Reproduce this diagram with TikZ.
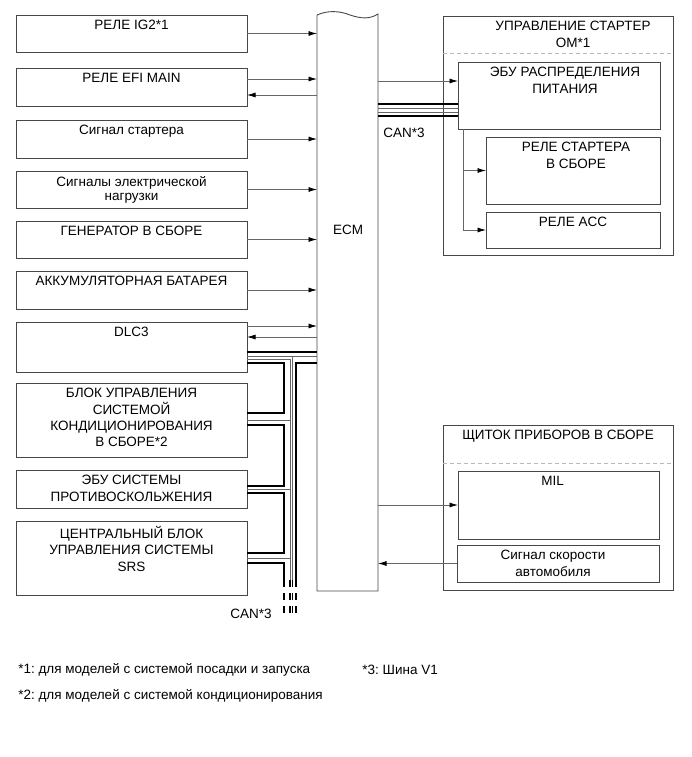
\documentclass[tikz,border=0pt]{standalone}
\usepackage{fontspec}
\setmainfont{Liberation Sans}
\frenchspacing
\usetikzlibrary{arrows.meta,positioning}
\definecolor{boxgray}{HTML}{474747}
\definecolor{wiregray}{HTML}{666666}
\tikzset{every picture/.style={line width=0.75pt}}
\tikzset{
  unit/.style={draw=boxgray, line width=0.9pt, anchor=north west, inner sep=0pt, outer sep=0pt},
  caption/.style={anchor=north, yshift=-5pt, inner sep=0pt, align=center, font=\fontsize{13.5}{16.3}\selectfont},
  sig/.style={draw=wiregray, line width=0.8pt, -{Latex[length=8.5pt,width=5pt,color=black]}},
  canhi/.style={draw=black, line width=2.6pt, line join=miter},
  canlo/.style={draw=wiregray, line width=0.7pt},
  sepline/.style={draw=gray!55, line width=0.8pt, dash pattern=on 4pt off 3pt},
  note/.style={anchor=west, inner sep=0pt, font=\fontsize{13.5}{16.3}\selectfont},
}

\begin{document}
\begin{tikzpicture}[x=1pt,y=-1pt]
    \useasboundingbox (0,0) rectangle (691,757);

    % Left column of units
    \node[unit, minimum width=231pt, minimum height=37pt, label={[caption]north:РЕЛЕ IG2*1}] (ig2) at (16,15) {};
    \node[unit, minimum width=231pt, minimum height=38pt, label={[caption]north:РЕЛЕ EFI MAIN}] (efi) at (16,68) {};
    \node[unit, minimum width=231pt, minimum height=38pt, label={[caption]north:Сигнал стартера}] (stsig) at (16,120) {};
    \node[unit, minimum width=231pt, minimum height=37pt, label={[caption,font=\fontsize{13.5}{14}\selectfont]north:{Сигналы электрической\\нагрузки}}] (load) at (16,171) {};
    \node[unit, minimum width=231pt, minimum height=37pt, label={[caption]north:ГЕНЕРАТОР В СБОРЕ}] (gen) at (16,221) {};
    \node[unit, minimum width=231pt, minimum height=38pt, label={[caption]north:АККУМУЛЯТОРНАЯ БАТАРЕЯ}] (batt) at (16,271) {};
    \node[unit, minimum width=231pt, minimum height=50pt, label={[caption]north:DLC3}] (dlc) at (16,322) {};
    \node[unit, minimum width=231pt, minimum height=74pt, label={[caption]north:{БЛОК УПРАВЛЕНИЯ\\СИСТЕМОЙ\\КОНДИЦИОНИРОВАНИЯ\\В СБОРЕ*2}}] (hvac) at (16,383) {};
    \node[unit, minimum width=231pt, minimum height=38pt, label={[caption]north:{ЭБУ СИСТЕМЫ\\ПРОТИВОСКОЛЬЖЕНИЯ}}] (pcs) at (16,470) {};
    \node[unit, minimum width=231pt, minimum height=74pt, label={[caption]north:{ЦЕНТРАЛЬНЫЙ БЛОК\\УПРАВЛЕНИЯ СИСТЕМЫ\\SRS}}] (srs) at (16,521) {};

    % ECM with torn top edge
    \node[anchor=north west, inner sep=0pt, outer sep=0pt, minimum width=61pt, minimum height=576pt] (ecm) at (317,15) {};
    \draw[boxgray, line width=0.9pt] (ecm.north west) -- (ecm.south west) -- (ecm.south east) -- ([yshift=1pt]ecm.north east)
        .. controls (370,19) and (362,19) .. (350,15) .. controls (340,11) and (328,10) .. (ecm.north west);
    \node[caption, anchor=center, yshift=0pt] (ecmtext) at (348,225) {ECM};

    % Starter control group
    \node[unit, minimum width=230pt, minimum height=239pt, label={[caption,xshift=15pt]north:{УПРАВЛЕНИЕ СТАРТЕР\\ОМ*1}}] (stctl) at (443,16) {};
    \draw[sepline] ([yshift=-37pt]stctl.north west) -- ([yshift=-37pt]stctl.north east);
    \node[unit, minimum width=202pt, minimum height=67pt, label={[caption,xshift=6pt]north:{ЭБУ РАСПРЕДЕЛЕНИЯ\\ПИТАНИЯ}}] (pdu) at (458,62) {};
    \node[unit, minimum width=174pt, minimum height=67pt, label={[caption,xshift=3pt]north:{РЕЛЕ СТАРТЕРА\\В СБОРЕ}}] (strel) at (486,137) {};
    \node[unit, minimum width=174pt, minimum height=36pt, label={[caption]north:РЕЛЕ ACC}] (accrel) at (486,212) {};

    % Meter group
    \node[unit, minimum width=230pt, minimum height=165pt, label={[caption]north:ЩИТОК ПРИБОРОВ В СБОРЕ}] (meter) at (443,425) {};
    \draw[sepline] ([yshift=-38pt]meter.north west) -- ([yshift=-38pt]meter.north east);
    \node[unit, minimum width=201pt, minimum height=68pt, label={[caption,xshift=-6pt]north:MIL}] (mil) at (458,471) {};
    \node[unit, minimum width=202pt, minimum height=37pt, label={[caption,xshift=-5pt]north:{Сигнал скорости\\автомобиля}}] (spd) at (457,545) {};

    % Signal lines, left side
    \coordinate (efiout) at ([yshift=8pt]efi.east);
    \coordinate (efiin) at ([yshift=-8pt]efi.east);
    \coordinate (dlcout) at ([yshift=-4pt]dlc.north east);
    \coordinate (dlcin) at ([yshift=-15pt]dlc.north east);
    \draw[sig] (ig2.east) -- (ig2.east -| ecm.west);
    \draw[sig] (efiout) -- (efiout -| ecm.west);
    \draw[sig] (efiin -| ecm.west) -- (efiin);
    \draw[sig] (stsig.east) -- (stsig.east -| ecm.west);
    \draw[sig] (load.east) -- (load.east -| ecm.west);
    \draw[sig] (gen.east) -- (gen.east -| ecm.west);
    \draw[sig] (batt.east) -- (batt.east -| ecm.west);
    \draw[sig] (dlcout) -- (dlcout -| ecm.west);
    \draw[sig] (dlcin -| ecm.west) -- (dlcin);

    % Signal lines, right side
    \coordinate (pduin) at ([yshift=-19pt]pdu.north west);
    \draw[sig] (pduin -| ecm.east) -- (pduin);
    \draw[sig] ([xshift=5pt]pdu.south west) |- (strel.west);
    \draw[sig] ([xshift=5pt]pdu.south west) |- (accrel.west);
    \draw[sig] (mil.west -| ecm.east) -- (mil.west);
    \draw[sig] (spd.west) -- (spd.west -| ecm.east);

    % CAN to power distribution ECU
    \coordinate (pduc) at ([yshift=-42pt]pdu.north west);
    \draw[canhi] (pduc -| ecm.east) -- (pduc);
    \draw[canlo] ([yshift=-4pt]pduc -| ecm.east) -- ([yshift=-4pt]pduc);
    \draw[canlo] ([yshift=-8pt]pduc -| ecm.east) -- ([yshift=-8pt]pduc);
    \draw[canhi] ([yshift=-12pt]pduc -| ecm.east) -- ([yshift=-12pt]pduc);
    \node[caption, anchor=center, yshift=0pt] (canlbla) at (404,128) {CAN*3};

    % CAN bus, left side
    \coordinate (spA) at (284,580);
    \coordinate (spB) at (290,580);
    \coordinate (spC) at (292.5,580);
    \coordinate (spD) at (296,580);
    \coordinate (dlcA) at ([yshift=-30pt]dlc.north east);
    \coordinate (dlcB) at ([yshift=-34pt]dlc.north east);
    \coordinate (dlcC) at ([yshift=-37pt]dlc.north east);
    \coordinate (dlcD) at ([yshift=-41pt]dlc.north east);
    \coordinate (hvacA) at ([yshift=-30pt]hvac.north east);
    \coordinate (hvacB) at ([yshift=-37pt]hvac.north east);
    \coordinate (hvacC) at ([yshift=-42pt]hvac.north east);
    \coordinate (pcsA) at ([yshift=-16pt]pcs.north east);
    \coordinate (pcsB) at ([yshift=-19pt]pcs.north east);
    \coordinate (pcsC) at ([yshift=-23pt]pcs.north east);
    \coordinate (srsA) at ([yshift=-32pt]srs.north east);
    \coordinate (srsB) at ([yshift=-37pt]srs.north east);
    \coordinate (srsC) at ([yshift=-42pt]srs.north east);

    \draw[canhi] (dlcA) -- (dlcA -| ecm.west);
    \draw[canlo] (dlcB) -- (dlcB -| ecm.west);
    \draw[canlo] (dlcC) -- (dlcC -| spB) -- (spB);
    \draw[canlo] (dlcB -| spC) -- (spC);
    \draw[canhi] (dlcD) -- (dlcD -| spA) -- (hvacA -| spA) -- (hvacA);
    \draw[canhi] (hvacC) -- (hvacC -| spA) -- (pcsA -| spA) -- (pcsA);
    \draw[canhi] (pcsC) -- (pcsC -| spA) -- (srsA -| spA) -- (srsA);
    \draw[canhi] (srsC) -- (srsC -| spA) -- (spA);
    \draw[canhi] (dlcD -| ecm.west) -- (dlcD -| spD) -- (spD);
    \draw[canlo] (hvacB) -- (hvacB -| spB);
    \draw[canlo] (pcsB) -- (pcsB -| spB);
    \draw[canlo] (srsB) -- (srsB -| spB);

    % bus continues
    \foreach \sp/\wd in {spA/2.6pt, spB/1.3pt, spC/1.3pt, spD/2.6pt}
        \draw[black, line width=\wd, dash pattern=on 7pt off 6pt] (\sp) -- ++(0,34);
    \node[caption, anchor=center, yshift=0pt] (canlblb) at (251,609) {CAN*3};

    % Footnotes
    \node[note] (fn1) at (18,670) {*1: для моделей с системой посадки и запуска};
    \node[note] (fn3) at (362,670) {*3: Шина V1};
    \node[note] (fn2) at (18,696) {*2: для моделей с системой кондиционирования};
\end{tikzpicture}
\end{document}
